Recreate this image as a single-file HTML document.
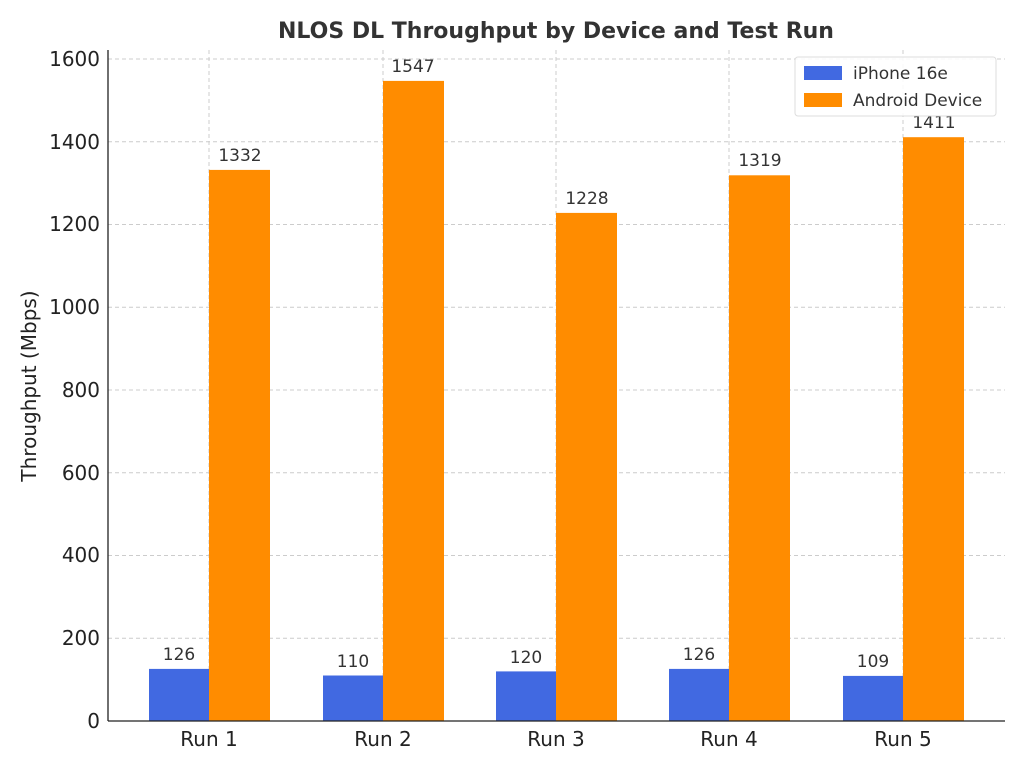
<!DOCTYPE html>
<html><head><meta charset="utf-8"><style>
html,body{margin:0;padding:0;background:#fff;}
svg text{font-family:"DejaVu Sans","Liberation Sans",sans-serif;}
</style></head><body>
<svg width="1024" height="768" xmlns="http://www.w3.org/2000/svg">
<rect width="1024" height="768" fill="#fff"/>
<text x="556" y="38" text-anchor="middle" font-size="22" font-weight="bold" fill="#333">NLOS DL Throughput by Device and Test Run</text>
<g stroke="#ccc" stroke-dasharray="4,3" stroke-width="1">
<line x1="108" x2="1005" y1="638.25" y2="638.25"/>
<line x1="108" x2="1005" y1="555.5" y2="555.5"/>
<line x1="108" x2="1005" y1="472.75" y2="472.75"/>
<line x1="108" x2="1005" y1="390" y2="390"/>
<line x1="108" x2="1005" y1="307.25" y2="307.25"/>
<line x1="108" x2="1005" y1="224.5" y2="224.5"/>
<line x1="108" x2="1005" y1="141.75" y2="141.75"/>
<line x1="108" x2="1005" y1="59" y2="59"/>
<line x1="209" x2="209" y1="50" y2="721"/>
<line x1="383" x2="383" y1="50" y2="721"/>
<line x1="556" x2="556" y1="50" y2="721"/>
<line x1="729" x2="729" y1="50" y2="721"/>
<line x1="903" x2="903" y1="50" y2="721"/>
</g>
<g fill="#4169e1">
<rect x="149" y="668.9" width="60" height="52.1"/>
<rect x="323" y="675.5" width="60" height="45.5"/>
<rect x="496" y="671.4" width="60" height="49.6"/>
<rect x="669" y="668.9" width="60" height="52.1"/>
<rect x="843" y="675.9" width="60" height="45.1"/>
</g>
<g fill="#ff8c00">
<rect x="209" y="169.9" width="61" height="551.1"/>
<rect x="383" y="80.9" width="61" height="640.1"/>
<rect x="556" y="212.9" width="61" height="508.1"/>
<rect x="729" y="175.3" width="61" height="545.7"/>
<rect x="903" y="137.2" width="61" height="583.8"/>
</g>
<g font-size="17" fill="#333" text-anchor="middle">
<text x="179" y="660">126</text><text x="353" y="667">110</text><text x="526" y="663">120</text><text x="699" y="660">126</text><text x="873" y="667">109</text>
<text x="240" y="161">1332</text><text x="413" y="72">1547</text><text x="587" y="204">1228</text><text x="760" y="166">1319</text><text x="934" y="128">1411</text>
</g>
<g stroke="#222" stroke-width="1.3">
<line x1="108" x2="108" y1="50" y2="721"/>
<line x1="108" x2="1005" y1="721" y2="721"/>
</g>
<g font-size="20" fill="#222" text-anchor="end">
<text x="100" y="728">0</text><text x="100" y="645">200</text><text x="100" y="562">400</text><text x="100" y="480">600</text><text x="100" y="397">800</text><text x="100" y="314">1000</text><text x="100" y="231">1200</text><text x="100" y="149">1400</text><text x="100" y="66">1600</text>
</g>
<g font-size="20" fill="#222" text-anchor="middle">
<text x="209" y="746">Run 1</text><text x="383" y="746">Run 2</text><text x="556" y="746">Run 3</text><text x="729" y="746">Run 4</text><text x="903" y="746">Run 5</text>
</g>
<text transform="translate(36,386) rotate(-90)" font-size="20" fill="#222" text-anchor="middle">Throughput (Mbps)</text>
<rect x="795" y="57" width="201" height="59" fill="#fff" fill-opacity="0.85" stroke="#ddd" rx="3"/>
<rect x="804" y="66" width="38" height="14" fill="#4169e1"/>
<rect x="804" y="93" width="38" height="14" fill="#ff8c00"/>
<text x="853" y="79" font-size="17" fill="#333">iPhone 16e</text>
<text x="853" y="106" font-size="17" fill="#333">Android Device</text>
</svg>
</body></html>
